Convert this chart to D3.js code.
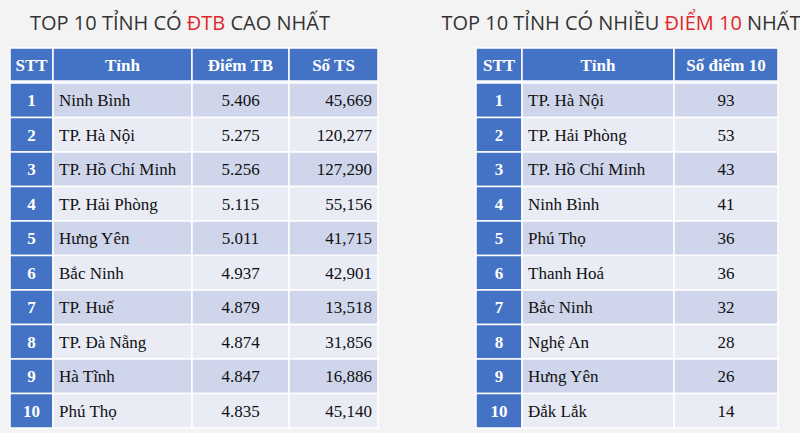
<!DOCTYPE html>
<html><head><meta charset="utf-8">
<script src="https://cdn.jsdelivr.net/npm/d3@7"></script>
<style>body{margin:0;background:#f3f3f3}</style></head>
<body><svg id="c" width="800" height="433"></svg>
<script>
const stt = [1,2,3,4,5,6,7,8,9,10];
const tinhDTB = ["Ninh Bình","TP. Hà Nội","TP. Hồ Chí Minh","TP. Hải Phòng","Hưng Yên","Bắc Ninh","TP. Huế","TP. Đà Nẵng","Hà Tĩnh","Phú Thọ"];
const diemTB = ["5.406","5.275","5.256","5.115","5.011","4.937","4.879","4.874","4.847","4.835"];
const soTS = ["45,669","120,277","127,290","55,156","41,715","42,901","13,518","31,856","16,886","45,140"];
const tinhD10 = ["TP. Hà Nội","TP. Hải Phòng","TP. Hồ Chí Minh","Ninh Bình","Phú Thọ","Thanh Hoá","Bắc Ninh","Nghệ An","Hưng Yên","Đắk Lắk"];
const soD10 = [93,53,43,41,36,36,32,28,26,14];
const headL = ["STT","Tỉnh","Điểm TB","Số TS"];
const headR = ["STT","Tỉnh","Số điểm 10"];

const svg = d3.select("#c");
const y = d3.scaleBand().domain(d3.range(11)).range([48,428]).paddingInner(0);
// header a bit shorter: use custom rows via scale
function table(x0, edges, head, cols, aligns){
  const g = svg.append("g");
  const rowY = i => i===0 ? 48 : 83 + (i-1)*34.5;
  const rowH = i => i===0 ? 33 : 34.5;
  for(let r=0;r<11;r++){
    for(let c=0;c<edges.length-1;c++){
      const x = edges[c], w = edges[c+1]-edges[c];
      let fill = r===0||c===0 ? "#4472c4" : (r%2===1 ? "#cfd5ea" : "#e9ebf5");
      g.append("rect").attr("x",x).attr("y",rowY(r)).attr("width",w).attr("height",rowH(r))
        .attr("fill",fill).attr("stroke","#fff").attr("stroke-width",1.5);
      const txt = r===0 ? head[c] : cols[c][r-1];
      const bold = r===0||c===0;
      const al = r===0 ? "middle" : aligns[c];
      const tx = al==="middle" ? x+w/2 : al==="start" ? x+6 : x+w-6;
      g.append("text").attr("x",tx).attr("y",rowY(r)+rowH(r)/2+6)
        .attr("text-anchor",al).attr("font-family","Liberation Serif, serif")
        .attr("font-size",17).attr("font-weight",bold?"bold":"normal")
        .attr("fill",bold?"#fff":"#111").text(txt);
    }
  }
}
table(0,[10,53,192,289,378],headL,[stt,tinhDTB,diemTB,soTS],["middle","start","middle","end"]);
table(0,[476,522,674,778],headR,[stt,tinhD10,soD10],["middle","start","middle"]);

function title(cx, parts){
  const t = svg.append("text").attr("x",cx).attr("y",30).attr("text-anchor","middle")
    .attr("font-family","Open Sans, sans-serif").attr("font-size",20).attr("fill","#333");
  parts.forEach(p=>t.append("tspan").attr("fill",p[1]).text(p[0]));
}
title(180,[["TOP 10 TỈNH CÓ ","#333"],["ĐTB","#e0282b"],[" CAO NHẤT","#333"]]);
title(621,[["TOP 10 TỈNH CÓ NHIỀU ","#333"],["ĐIỂM 10","#e0282b"],[" NHẤT","#333"]]);
</script></body></html>
